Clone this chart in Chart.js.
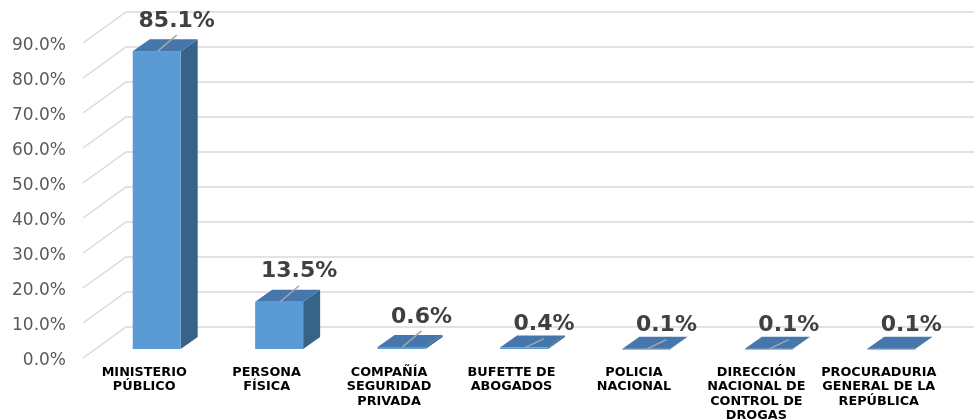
<!DOCTYPE html>
<html>
<head>
<meta charset="utf-8">
<script src="https://cdn.jsdelivr.net/npm/chart.js@4.4.1/dist/chart.umd.min.js"></script>
<style>
html,body{margin:0;padding:0;background:#fff;}
#wrap{width:974px;height:420px;position:relative;}
</style>
</head>
<body>
<div id="wrap"><canvas id="c" width="974" height="420"></canvas></div>
<script>
const categories = [
  ["MINISTERIO", "PÚBLICO"],
  ["PERSONA", "FÍSICA"],
  ["COMPAÑÍA", "SEGURIDAD", "PRIVADA"],
  ["BUFETTE DE", "ABOGADOS"],
  ["POLICIA", "NACIONAL"],
  ["DIRECCIÓN", "NACIONAL DE", "CONTROL DE", "DROGAS"],
  ["PROCURADURIA", "GENERAL DE LA", "REPÚBLICA"]
];
const values = [85.1, 13.5, 0.6, 0.4, 0.1, 0.1, 0.1];
const yTicks = [0, 10, 20, 30, 40, 50, 60, 70, 80, 90];

const WALL_DX = 43, WALL_DY = -31;   // depth of the 3D plot
const BAR_OFF_X = 12.5, BAR_OFF_Y = -9; // bar front face behind front plane
const BAR_DX = 17, BAR_DY = -12;     // bar depth
const FRONT = '#5B9BD5', TOP = '#4677AC', SIDE = '#386389';
const GRID = '#D9D9D9';

const threeD = {
  id: 'threeD',
  beforeDatasetsDraw(chart) {
    const ctx = chart.ctx, y = chart.scales.y, area = chart.chartArea;
    ctx.save();
    ctx.strokeStyle = GRID;
    ctx.lineWidth = 1.5;
    yTicks.forEach(t => {
      const py = y.getPixelForValue(t);
      ctx.beginPath();
      ctx.moveTo(area.left, py);
      ctx.lineTo(area.left + WALL_DX, py + WALL_DY);
      ctx.lineTo(chart.width, py + WALL_DY);
      ctx.stroke();
    });
    ctx.restore();
  },
  afterDatasetsDraw(chart) {
    const ctx = chart.ctx, meta = chart.getDatasetMeta(0);
    ctx.save();
    meta.data.forEach((el, i) => {
      const w = el.width;
      const l = el.x - w / 2 + BAR_OFF_X, r = el.x + w / 2 + BAR_OFF_X;
      const top = el.y + BAR_OFF_Y, base = el.base + BAR_OFF_Y;
      // side
      ctx.fillStyle = SIDE;
      ctx.beginPath();
      ctx.moveTo(r, base); ctx.lineTo(r + BAR_DX, base + BAR_DY);
      ctx.lineTo(r + BAR_DX, top + BAR_DY); ctx.lineTo(r, top); ctx.closePath();
      ctx.fill();
      // front
      ctx.fillStyle = FRONT;
      ctx.fillRect(l, top, w, Math.max(base - top, 1));
      // top
      ctx.fillStyle = TOP;
      ctx.beginPath();
      ctx.moveTo(l, top); ctx.lineTo(r, top);
      ctx.lineTo(r + BAR_DX, top + BAR_DY); ctx.lineTo(l + BAR_DX, top + BAR_DY); ctx.closePath();
      ctx.fill();
      // label
      const v = values[i];
      const cx = el.x + BAR_OFF_X;
      const lx = cx + 20;
      const ly = top - (v >= 0.5 ? 30 : 23);
      if (i < meta.data.length - 1) {
        ctx.strokeStyle = '#A6A6A6';
        ctx.lineWidth = 1.5;
        ctx.beginPath();
        ctx.moveTo(cx + 1, top);
        ctx.lineTo(lx, ly + 14);
        ctx.stroke();
      }
      ctx.fillStyle = '#404040';
      ctx.font = 'bold 22px "DejaVu Sans"';
      ctx.textAlign = 'center';
      ctx.textBaseline = 'middle';
      ctx.fillText(v.toFixed(1) + '%', lx, ly);
    });
    ctx.restore();
  }
};

new Chart(document.getElementById('c'), {
  type: 'bar',
  data: {
    labels: categories,
    datasets: [{
      data: values,
      backgroundColor: 'rgba(0,0,0,0)',
      borderWidth: 0,
      barPercentage: 0.392,
      categoryPercentage: 1
    }]
  },
  options: {
    responsive: false,
    animation: false,
    devicePixelRatio: 1,
    layout: { padding: { top: 43, right: 34, left: 0, bottom: 0 } },
    plugins: { legend: { display: false }, tooltip: { enabled: false } },
    scales: {
      x: {
        grid: { display: false, drawTicks: false },
        border: { display: false },
        ticks: {
          autoSkip: false, maxRotation: 0, minRotation: 0, padding: 8,
          color: '#000', font: { family: 'DejaVu Sans', size: 12.8, weight: 'bold', lineHeight: 1.1 }
        },
        afterFit(s) { s.height = 62; }
      },
      y: {
        min: 0, max: 90,
        afterBuildTicks(s) { s.ticks = yTicks.map(v => ({ value: v })); },
        grid: { display: false, drawTicks: false },
        border: { display: false },
        ticks: {
          padding: 17, color: '#595959', labelOffset: 3,
          font: { family: 'DejaVu Sans', size: 17 },
          callback: v => v.toFixed(1) + '%'
        },
        afterFit(s) { s.width = 83; }
      }
    }
  },
  plugins: [threeD]
});
</script>
</body>
</html>
